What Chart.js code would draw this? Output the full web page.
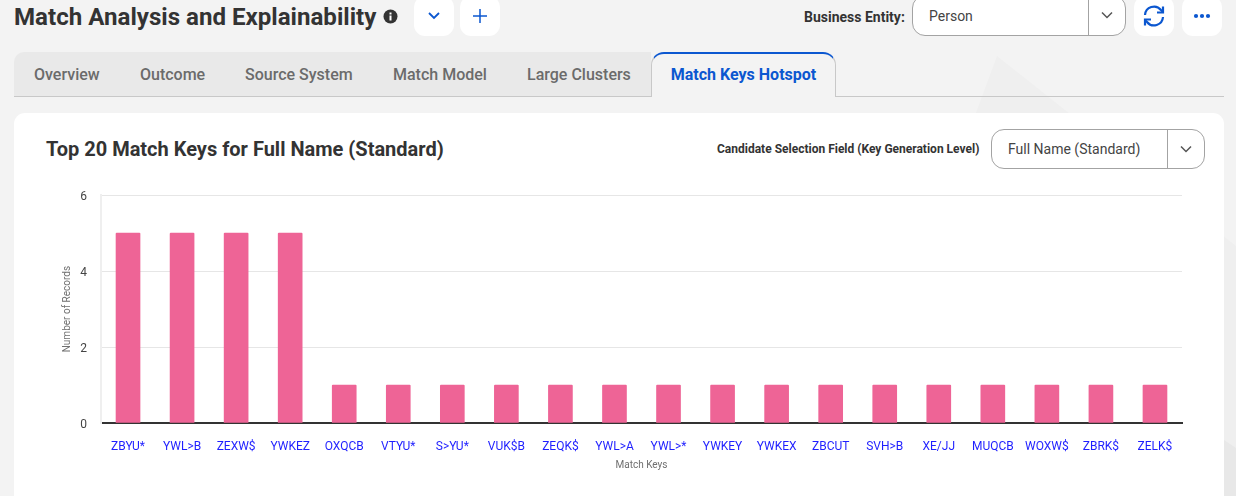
<!DOCTYPE html>
<html>
<head>
<meta charset="utf-8">
<title>Match Analysis and Explainability</title>
<script src="https://cdn.jsdelivr.net/npm/chart.js@4/dist/chart.umd.min.js"></script>
<style>
  * { box-sizing: border-box; }
  html, body { margin: 0; padding: 0; }
  body {
    width: 1236px; height: 496px; overflow: hidden; position: relative;
    background: #f3f3f3; font-family: Roboto, sans-serif; color: #333;
  }
  .abs { position: absolute; white-space: nowrap; }
  .bg-shape { position: absolute; left: 960px; top: 56px; width: 276px; height: 440px; background: #efefef;
    clip-path: polygon(37px 0, 276px 190px, 276px 440px, 0 440px, 0 100px); }
  .bg-shape-low { position: absolute; left: 1224px; top: 440px; width: 12px; height: 56px; background: #e8e8e8;
    clip-path: polygon(0 0, 12px 8px, 12px 56px, 0 56px); }
  .page-title { left: 14px; top: 1px; font-size: 24.1px; font-weight: 700; line-height: 32px; color: #333; }
  .icon-btn { position: absolute; width: 40px; height: 40px; top: -4px; background: #fff; border-radius: 11px;
    display: flex; align-items: center; justify-content: center; }
  .field-label { font-weight: 700; color: #333; }
  .select { position: absolute; background: #fff; border: 1px solid #a3a3a3; border-radius: 13px; font-size: 14px;
    color: #444; display: flex; align-items: center; }
  .select span { flex: 1; }
  .select .caret { border-left: 1px solid #a3a3a3; height: 100%; width: 37px; display: flex; align-items: center; justify-content: center; }
  .tabs { position: absolute; left: 14px; top: 52px; width: 637px; height: 44px; background: #e9e9e9; border-radius: 10px 0 0 0; }
  .tab-line { position: absolute; top: 96px; height: 1px; background: #c8c8c8; }
  .tab { position: absolute; top: 66px; font-size: 16px; font-weight: 500; color: #6b6b6b; line-height: 18px; white-space: nowrap; }
  .tab-active { position: absolute; left: 651px; top: 52px; width: 185px; height: 45px; background: #f3f3f3;
    border: 1px solid #c8c8c8; border-top: 2px solid #0b57d0; border-bottom: none; border-radius: 13px 13px 0 0;
    color: #0b57d0; font-size: 16px; font-weight: 700; text-align: center; line-height: 41px; }
  .card { position: absolute; left: 14px; top: 113px; width: 1210px; height: 400px; background: #fff; border-radius: 11px; }
  .card-title { left: 46px; top: 137px; font-size: 20px; font-weight: 700; line-height: 24px; color: #333; }
  #chartBox { position: absolute; left: 46px; top: 174px; width: 1160px; height: 306px; }
</style>
</head>
<body>
<div class="bg-shape"></div>
<div class="bg-shape-low"></div>

<div class="abs page-title">Match Analysis and Explainability</div>
<svg class="abs" style="left:383px;top:9px" width="15" height="15" viewBox="0 0 15 15">
  <circle cx="7.5" cy="7.5" r="7" fill="#333"/>
  <rect x="6.5" y="6.5" width="2" height="5" fill="#fff"/><rect x="6.5" y="3.5" width="2" height="2" fill="#fff"/>
</svg>
<div class="icon-btn" style="left:414px">
  <svg width="14" height="10" viewBox="0 0 14 10"><path d="M2 2l5 5 5-5" fill="none" stroke="#0b57d0" stroke-width="1.8"/></svg>
</div>
<div class="icon-btn" style="left:460px">
  <svg width="14" height="14" viewBox="0 0 14 14"><path d="M7 0v14M0 7h14" stroke="#0b57d0" stroke-width="1.5"/></svg>
</div>

<div class="abs field-label" style="left:804px;top:8px;font-size:14px;line-height:18px">Business Entity:</div>
<div class="select" style="left:912px;top:-5px;width:214px;height:41px;padding-left:16px">
  <span>Person</span>
  <div class="caret"><svg width="14" height="9" viewBox="0 0 14 9"><path d="M2 1.5l5 5 5-5" fill="none" stroke="#555" stroke-width="1.5"/></svg></div>
</div>
<div class="icon-btn" style="left:1134px">
  <svg width="22" height="22" viewBox="0 0 22 22" fill="none" stroke="#0b57d0" stroke-width="2.2">
    <path d="M2 10a9 9 0 0 1 16-5l2 2"/><path d="M20 1.5v6h-6"/><path d="M20 12a9 9 0 0 1-16 5l-2-2"/><path d="M2 20.5v-6h6"/>
  </svg>
</div>
<div class="icon-btn" style="left:1182px">
  <svg width="18" height="6" viewBox="0 0 18 6" fill="#0b57d0"><circle cx="3" cy="3" r="2.1"/><circle cx="9" cy="3" r="2.1"/><circle cx="15" cy="3" r="2.1"/></svg>
</div>

<div class="tabs"></div>
<div class="tab-line" style="left:14px;width:637px"></div>
<div class="tab-line" style="left:836px;width:388px"></div>
<div class="tab" style="left:34px">Overview</div>
<div class="tab" style="left:140px">Outcome</div>
<div class="tab" style="left:245px">Source System</div>
<div class="tab" style="left:393px">Match Model</div>
<div class="tab" style="left:527px">Large Clusters</div>
<div class="tab-active">Match Keys Hotspot</div>

<div class="card"></div>
<div class="abs card-title">Top 20 Match Keys for Full Name (Standard)</div>
<div class="abs field-label" style="left:717px;top:142px;font-size:12px;line-height:15px">Candidate Selection Field (Key Generation Level)</div>
<div class="select" style="left:991px;top:129px;width:214px;height:40px;padding-left:16px">
  <span>Full Name (Standard)</span>
  <div class="caret"><svg width="14" height="9" viewBox="0 0 14 9"><path d="M2 1.5l5 5 5-5" fill="none" stroke="#555" stroke-width="1.5"/></svg></div>
</div>

<div id="chartBox"><canvas id="keysChart" width="1160" height="306"></canvas></div>

<script>
const matchKeys = ["ZBYU*", "YWL>B", "ZEXW$", "YWKEZ", "OXQCB", "VTYU*", "S>YU*", "VUK$B", "ZEQK$", "YWL>A",
  "YWL>*", "YWKEY", "YWKEX", "ZBCUT", "SVH>B", "XE/JJ", "MUQCB", "WOXW$", "ZBRK$", "ZELK$"];
const recordCounts = [5, 5, 5, 5, 1, 1, 1, 1, 1, 1, 1, 1, 1, 1, 1, 1, 1, 1, 1, 1];
const yTicks = [0, 2, 4, 6];

new Chart(document.getElementById("keysChart"), {
  type: "bar",
  data: {
    labels: matchKeys,
    datasets: [{
      label: "Number of Records",
      data: recordCounts,
      backgroundColor: "#ee6496",
      barThickness: 24,
      borderRadius: 1
    }]
  },
  options: {
    responsive: false,
    animation: false,
    layout: { padding: { top: 9, right: 24 } },
    plugins: { legend: { display: false }, tooltip: { enabled: false } },
    scales: {
      x: {
        grid: {
          // only the two outer edges of the plot get a line
          color: ctx => (ctx.index === 0 || ctx.index === matchKeys.length ? "#efefef" : "transparent"),
          lineWidth: 2,
          drawTicks: false
        },
        border: { color: "#333", width: 2 },
        ticks: { color: "#1f1fff", font: { family: "Roboto", size: 12 }, padding: 17, maxRotation: 0, autoSkip: false },
        title: { display: true, text: "Match Keys", color: "#6f6f6f", font: { family: "Roboto", size: 10 }, padding: { top: 3, bottom: 9 } },
        afterFit: scale => { scale.height = 57; }
      },
      y: {
        min: 0,
        max: 6,
        afterBuildTicks: scale => { scale.ticks = yTicks.map(v => ({ value: v })); },
        grid: { color: "#e6e6e6", lineWidth: 1, drawTicks: false },
        border: { color: "#efefef", width: 2 },
        ticks: { color: "#444", font: { family: "Roboto", size: 12 }, padding: 14, labelOffset: 2 },
        title: { display: true, text: "Number of Records", color: "#6f6f6f", font: { family: "Roboto", size: 10 }, padding: { top: 15, bottom: 14 } },
        afterFit: scale => { scale.width = 55; }
      }
    }
  }
});
</script>
</body>
</html>
